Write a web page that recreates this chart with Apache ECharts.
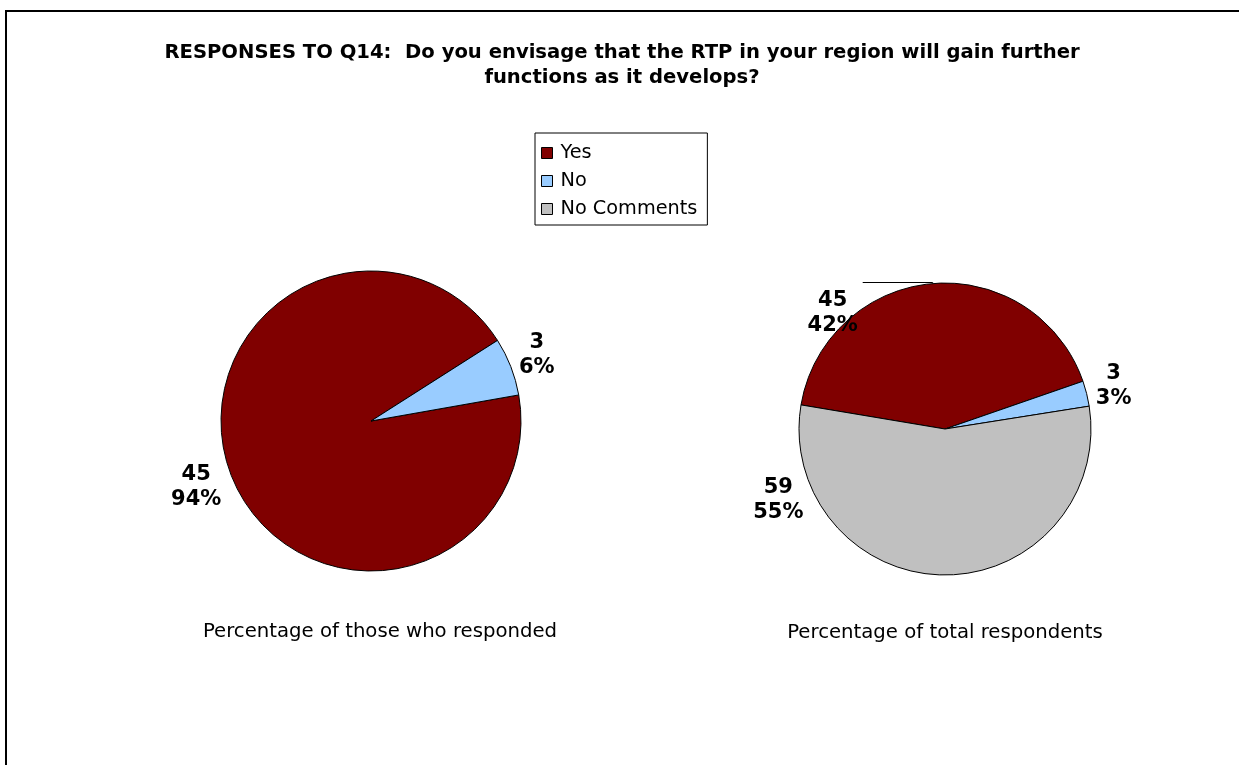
<!DOCTYPE html>
<html>
<head>
<meta charset="utf-8">
<title>Responses to Q14</title>
<script src="https://cdn.jsdelivr.net/npm/echarts@6/dist/echarts.min.js"></script>
<style>
  html, body { margin: 0; padding: 0; background: #fff; }
  #chart { width: 1239px; height: 765px; }
</style>
</head>
<body>
<div id="chart"></div>
<script>
// Survey answers to Q14
const categories = ['Yes', 'No', 'No Comments'];
const respondedCategories = ['Yes', 'No'];
const respondedValues = [45, 3];          // only those who answered
const totalValues = [45, 3, 59];          // all respondents
const sliceColors = ['#800000', '#99CCFF', '#C0C0C0'];

const titleLines = [
  'RESPONSES TO Q14:  Do you envisage that the RTP in your region will gain further',
  'functions as it develops?'
];
const captionResponded = 'Percentage of those who responded';
const captionTotal = 'Percentage of total respondents';

const FONT = 'DejaVu Sans';

// small nudges so labels sit clear of the slices (series-dataIndex -> [dx, dy])
const labelNudge = {
  '0-0': [0, 12],
  '0-1': [-9, -12],
  '1-1': [-8, -8],
  '1-2': [-131, -75]
};

const labelRich = {
  v: { width: 60, align: 'center', fontFamily: FONT, fontSize: 21, fontWeight: 'bold', lineHeight: 25, color: '#000' }
};

function pieData(names, values) {
  return names.map((n, i) => ({ name: n, value: values[i] }));
}

function nudgeLayout(params) {
  const n = labelNudge[params.seriesIndex + '-' + params.dataIndex];
  return n ? { dx: n[0], dy: n[1] } : {};
}

const baseSeries = {
  type: 'pie',
  clockwise: true,
  avoidLabelOverlap: false,
  percentPrecision: 0,
  animation: false,
  silent: true,
  itemStyle: { borderColor: '#000', borderWidth: 1 },
  label: {
    show: true,
    position: 'outside',
    formatter: '{v|{c}}\n{v|{d}%}',
    rich: labelRich,
    distanceToLabelLine: 5
  },
  labelLine: { show: false, length: 0, length2: 0 },
  emphasis: { disabled: true },
  labelLayout: nudgeLayout
};

const leftData = pieData(respondedCategories, respondedValues);

const rightData = pieData(categories, totalValues);
// the "Yes" label on the total pie hangs off a leader line
rightData[0].label = { padding: [62, 0, 0, 0], distanceToLabelLine: 0 };
rightData[0].labelLine = { show: true, length: 1, length2: 70, lineStyle: { color: '#000', width: 1 } };

const chart = echarts.init(document.getElementById('chart'), null, { renderer: 'canvas' });

chart.setOption({
  animation: false,
  color: sliceColors,
  title: [
    {
      text: titleLines.join('\n'),
      left: 622, top: 40, padding: 0,
      textAlign: 'center',
      textStyle: { fontFamily: FONT, fontSize: 19.6, fontWeight: 'bold', color: '#000', lineHeight: 25 }
    },
    {
      text: captionResponded,
      left: 380, top: 620, padding: 0,
      textAlign: 'center',
      textStyle: { fontFamily: FONT, fontSize: 19.7, fontWeight: 'normal', color: '#000', lineHeight: 23 }
    },
    {
      text: captionTotal,
      left: 945, top: 621, padding: 0,
      textAlign: 'center',
      textStyle: { fontFamily: FONT, fontSize: 19.7, fontWeight: 'normal', color: '#000', lineHeight: 23 }
    }
  ],
  legend: {
    data: categories,
    orient: 'vertical',
    left: 535, top: 133,
    padding: [9, 10, 5, 6],
    itemGap: 6,
    itemWidth: 11, itemHeight: 11,
    icon: 'rect',
    selectedMode: false,
    borderColor: '#000', borderWidth: 1,
    itemStyle: { borderColor: '#000', borderWidth: 1 },
    textStyle: { fontFamily: FONT, fontSize: 19.3, color: '#000', lineHeight: 22, padding: [0, 0, 0, 3] }
  },
  graphic: [
    {
      type: 'rect',
      silent: true,
      shape: { x: 6, y: 11, width: 1400, height: 900 },
      style: { fill: 'none', stroke: '#000', lineWidth: 2 }
    }
  ],
  series: [
    Object.assign({}, baseSeries, {
      name: 'Responded',
      center: [371, 421],
      radius: 150,
      startAngle: 10,
      data: leftData
    }),
    Object.assign({}, baseSeries, {
      name: 'Total',
      center: [945, 429],
      radius: 146,
      startAngle: 170.5,
      data: rightData
    })
  ]
});
</script>
</body>
</html>
